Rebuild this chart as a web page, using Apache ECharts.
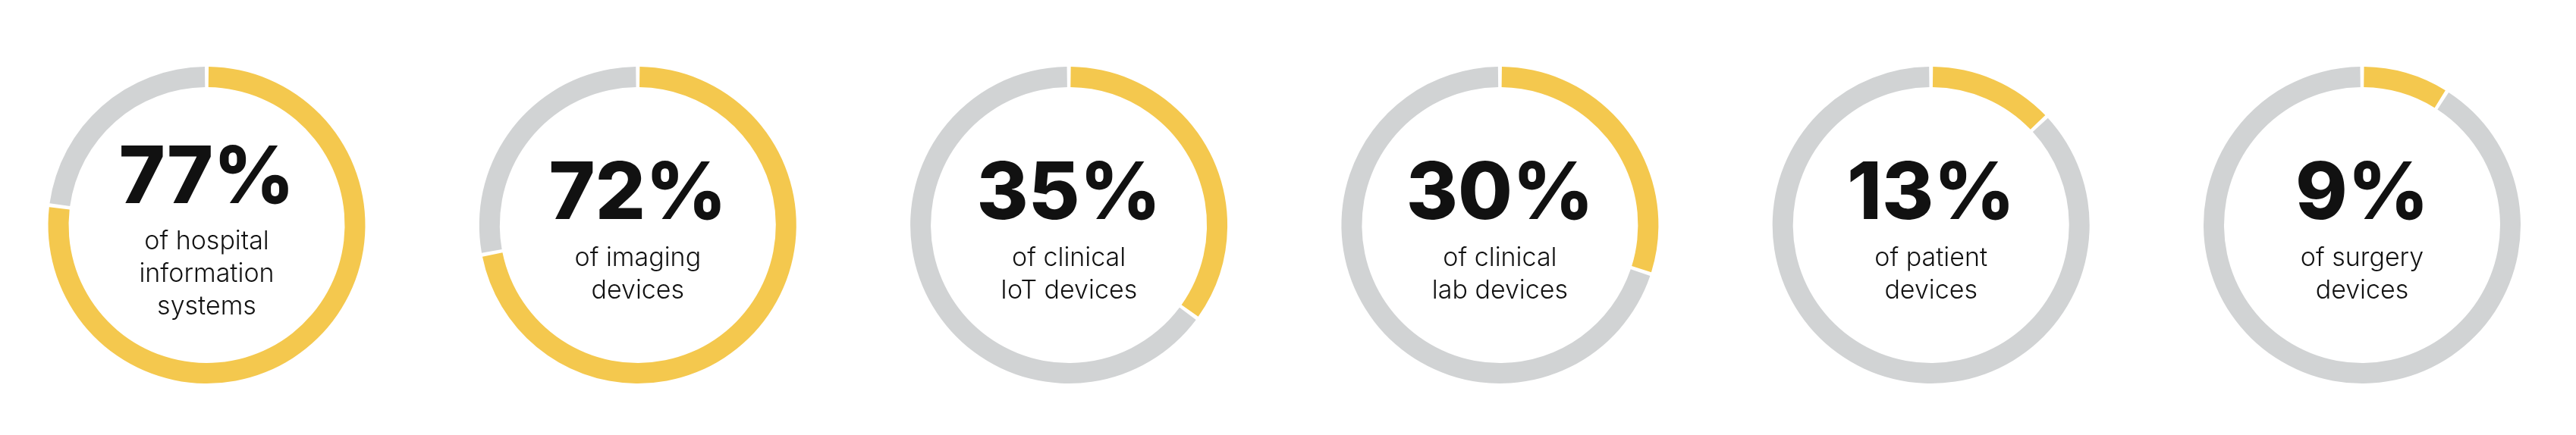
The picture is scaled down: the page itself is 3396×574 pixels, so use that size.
<!DOCTYPE html>
<html>
<head>
<meta charset="utf-8">
<script src="https://cdn.jsdelivr.net/npm/echarts@6/dist/echarts.min.js"></script>
<style>
  html, body { margin: 0; padding: 0; background: #ffffff; }
  #chart { width: 3396px; height: 574px; }
</style>
</head>
<body>
<div id="chart"></div>
<script>
// Data
const percentLabels = ['77%', '72%', '35%', '30%', '13%', '9%'];
const percentValues = [77, 72, 35, 30, 13, 9];
const categoryLines = [
  ['of hospital', 'information', 'systems'],
  ['of imaging', 'devices'],
  ['of clinical', 'IoT devices'],
  ['of clinical', 'lab devices'],
  ['of patient', 'devices'],
  ['of surgery', 'devices']
];

const YELLOW = '#F4C84E';
const GREY = '#D1D3D4';
const firstCenterX = 272.5;
const spacingX = 568.3;
const centerY = 297;

const series = percentValues.map(function (v, i) {
  const text = '{big|' + percentLabels[i] + '}\n' +
    categoryLines[i].map(function (l) { return '{small|' + l + '}'; }).join('\n');
  return {
    type: 'pie',
    center: [firstCenterX + i * spacingX, centerY],
    radius: [182, 209],
    startAngle: 90,
    clockwise: true,
    padAngle: 1.4,
    silent: true,
    animation: false,
    labelLine: { show: false },
    emphasis: { disabled: true },
    data: [
      {
        value: v,
        name: 'share',
        itemStyle: { color: YELLOW },
        label: {
          show: true,
          position: 'center',
          offset: [0, 4],
          formatter: text,
          rich: {
            big: {
              fontFamily: 'Inter',
              fontWeight: 800,
              fontSize: 104,
              lineHeight: 122,
              color: '#111111'
            },
            small: {
              fontFamily: 'Inter',
              fontWeight: 300,
              fontSize: 34,
              lineHeight: 43,
              color: '#111111'
            }
          }
        }
      },
      {
        value: 100 - v,
        name: 'rest',
        itemStyle: { color: GREY },
        label: { show: false }
      }
    ]
  };
});

const chart = echarts.init(document.getElementById('chart'), null, { renderer: 'canvas' });
chart.setOption({
  backgroundColor: '#ffffff',
  animation: false,
  series: series
});
</script>
</body>
</html>
